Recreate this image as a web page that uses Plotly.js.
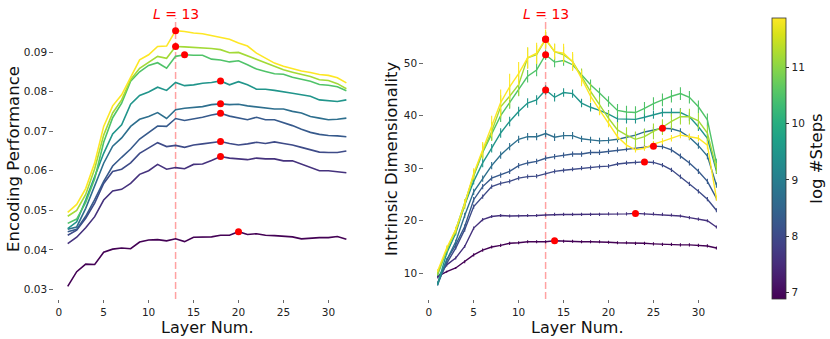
<!DOCTYPE html>
<html><head><meta charset="utf-8">
<script src="https://cdn.plot.ly/plotly-3.0.1.min.js"></script>
<style>html,body{margin:0;padding:0;background:#fff;}#chart{width:830px;height:339px;}</style>
</head><body><div id="chart"></div>
<script>
// ---------- DATA ----------
const layers = [1,2,3,4,5,6,7,8,9,10,11,12,13,14,15,16,17,18,19,20,21,22,23,24,25,26,27,28,29,30,31,32];
// log #Steps of each checkpoint (dark -> bright)
const logSteps = [6.91, 7.60, 8.01, 8.29, 8.70, 9.47, 10.49, 11.18, 11.87];

// Encoding performance (left panel), same order as logSteps
const enc_s1 = [0.0308,0.0345,0.0364,0.0363,0.0394,0.0402,0.0405,0.0403,0.0420,0.0425,0.0426,0.0423,0.0428,0.0421,0.0432,0.0432,0.0433,0.0437,0.0437,0.0446,0.0439,0.0441,0.0437,0.0436,0.0435,0.0433,0.0428,0.0430,0.0431,0.0431,0.0434,0.0427];
const enc_s2 = [0.0416,0.0432,0.0456,0.0484,0.0526,0.0549,0.0553,0.0568,0.0591,0.0600,0.0616,0.0604,0.0608,0.0605,0.0616,0.0617,0.0626,0.0636,0.0632,0.0630,0.0628,0.0632,0.0630,0.0630,0.0625,0.0625,0.0616,0.0608,0.0600,0.0600,0.0598,0.0595];
const enc_s3 = [0.0437,0.0450,0.0480,0.0518,0.0568,0.0598,0.0604,0.0620,0.0644,0.0657,0.0671,0.0661,0.0664,0.0659,0.0665,0.0668,0.0671,0.0674,0.0669,0.0665,0.0668,0.0672,0.0669,0.0673,0.0669,0.0665,0.0659,0.0653,0.0647,0.0646,0.0646,0.0650];
const enc_s4 = [0.0446,0.0452,0.0485,0.0527,0.0573,0.0612,0.0634,0.0655,0.0680,0.0697,0.0713,0.0712,0.0732,0.0727,0.0731,0.0735,0.0741,0.0745,0.0738,0.0734,0.0729,0.0735,0.0729,0.0729,0.0722,0.0714,0.0705,0.0697,0.0692,0.0689,0.0688,0.0686];
const enc_s5 = [0.0452,0.0458,0.0505,0.0560,0.0619,0.0662,0.0683,0.0712,0.0730,0.0737,0.0747,0.0732,0.0754,0.0758,0.0760,0.0762,0.0767,0.0769,0.0767,0.0768,0.0764,0.0761,0.0758,0.0756,0.0756,0.0750,0.0746,0.0737,0.0733,0.0729,0.0730,0.0733];
const enc_s6 = [0.0454,0.0471,0.0526,0.0585,0.0644,0.0693,0.0716,0.0768,0.0790,0.0799,0.0811,0.0803,0.0823,0.0815,0.0817,0.0821,0.0823,0.0827,0.0817,0.0825,0.0817,0.0806,0.0806,0.0803,0.0800,0.0796,0.0792,0.0788,0.0779,0.0777,0.0775,0.0779];
const enc_s7 = [0.0467,0.0478,0.0520,0.0580,0.0672,0.0734,0.0771,0.0826,0.0850,0.0866,0.0873,0.0859,0.0889,0.0893,0.0892,0.0892,0.0882,0.0880,0.0875,0.0878,0.0868,0.0857,0.0851,0.0845,0.0844,0.0836,0.0831,0.0826,0.0818,0.0816,0.0812,0.0802];
const enc_s8 = [0.0485,0.0500,0.0540,0.0605,0.0690,0.0746,0.0779,0.0830,0.0859,0.0875,0.0889,0.0884,0.0914,0.0913,0.0912,0.0911,0.0909,0.0906,0.0898,0.0899,0.0890,0.0880,0.0872,0.0862,0.0855,0.0849,0.0843,0.0838,0.0830,0.0828,0.0820,0.0807];
const enc_s9 = [0.0495,0.0515,0.0555,0.0620,0.0712,0.0764,0.0792,0.0837,0.0880,0.0893,0.0914,0.0915,0.0954,0.0952,0.0948,0.0946,0.0941,0.0937,0.0932,0.0923,0.0915,0.0897,0.0885,0.0872,0.0864,0.0858,0.0852,0.0848,0.0843,0.0841,0.0835,0.0822];

// Intrinsic dimensionality (right panel)
const id_s1 = [9.4,10.3,11.0,12.2,13.5,14.4,15.0,15.3,15.7,15.8,16.0,16.0,16.0,16.2,16.1,16.1,16.0,16.0,16.0,15.9,15.8,15.8,15.7,15.7,15.6,15.5,15.5,15.4,15.4,15.3,15.2,14.8];
const id_s2 = [9.2,11.6,12.9,15.1,18.6,20.2,20.8,21.0,20.9,20.9,21.0,21.0,21.1,21.2,21.2,21.2,21.2,21.2,21.2,21.3,21.3,21.3,21.4,21.3,21.3,21.2,21.1,20.9,20.6,20.3,20.0,18.8];
const id_s3 = [8.1,11.9,14.8,18.3,22.7,24.6,26.5,27.1,27.5,28.1,28.4,28.5,29.0,29.4,29.6,29.8,30.0,30.1,30.3,30.4,30.8,31.0,31.1,31.2,31.1,30.6,29.7,28.4,27.0,25.6,24.1,22.0];
const id_s4 = [8.2,12.5,15.4,18.9,24.0,26.5,28.1,28.7,29.4,30.5,31.0,31.3,31.9,32.2,32.5,32.7,32.7,33.0,33.0,33.2,33.5,33.7,33.9,34.0,34.2,34.1,33.5,32.3,31.0,29.4,27.5,24.3];
const id_s5 = [7.8,12.5,16.0,21.0,25.5,28.0,30.5,32.5,34.1,35.5,36.0,36.0,36.6,35.9,36.2,36.2,35.6,35.4,35.2,35.3,35.5,35.9,36.3,36.9,37.3,37.6,37.5,37.0,35.9,34.3,32.3,26.8];
const id_s6 = [8.0,13.8,17.6,23.0,27.5,31.0,33.8,36.7,38.9,40.8,42.4,43.0,44.9,43.5,44.4,44.2,42.4,41.6,41.0,40.3,39.4,39.3,39.3,39.7,40.2,40.6,40.6,40.6,39.8,37.9,35.7,29.5];
const id_s7 = [9.7,14.4,18.3,23.5,28.5,33.0,36.5,40.0,42.5,45.0,47.5,48.7,51.6,50.2,50.5,49.7,47.8,45.9,44.3,42.7,41.0,40.7,40.6,41.4,42.3,43.0,43.7,44.2,43.5,41.7,39.2,31.0];
const id_s8 = [10.0,14.5,18.0,23.0,28.7,33.2,37.0,41.7,43.7,45.9,51.0,51.6,54.5,52.2,51.6,50.3,47.5,44.6,42.1,39.5,37.3,36.3,35.5,36.0,37.0,37.8,38.9,39.8,39.8,39.0,36.7,30.0];
const id_s9 = [10.5,14.8,18.3,23.3,29.0,33.5,38.0,42.5,45.5,48.0,51.0,51.9,54.6,52.2,51.9,50.3,47.1,43.7,41.1,38.6,36.0,34.4,33.5,33.8,34.6,35.1,35.7,36.3,36.0,35.7,34.4,24.3];

// error bars (std) of intrinsic dimensionality
const id_e1 = [0.2,0.2,0.2,0.3,0.3,0.3,0.3,0.3,0.3,0.3,0.3,0.3,0.3,0.3,0.3,0.3,0.3,0.3,0.3,0.3,0.3,0.3,0.3,0.3,0.3,0.3,0.3,0.3,0.3,0.3,0.3,0.3];
const id_e2 = [0.2,0.3,0.3,0.3,0.3,0.3,0.3,0.3,0.3,0.3,0.3,0.3,0.3,0.3,0.3,0.3,0.3,0.3,0.3,0.3,0.3,0.3,0.3,0.3,0.3,0.3,0.3,0.3,0.3,0.3,0.3,0.3];
const id_e3 = [0.2,0.3,0.3,0.4,0.4,0.4,0.4,0.4,0.4,0.4,0.4,0.4,0.4,0.4,0.4,0.4,0.4,0.4,0.4,0.4,0.4,0.4,0.4,0.4,0.4,0.4,0.4,0.4,0.4,0.4,0.4,0.4];
const id_e4 = [0.2,0.3,0.4,0.4,0.5,0.5,0.5,0.5,0.5,0.5,0.5,0.5,0.5,0.5,0.5,0.5,0.5,0.5,0.5,0.5,0.5,0.5,0.5,0.5,0.5,0.5,0.5,0.5,0.5,0.5,0.5,0.4];
const id_e5 = [0.2,0.3,0.4,0.5,0.6,0.6,0.7,0.7,0.7,0.7,0.7,0.7,0.7,0.7,0.7,0.7,0.6,0.6,0.6,0.6,0.6,0.6,0.6,0.6,0.6,0.6,0.6,0.6,0.6,0.6,0.6,0.5];
const id_e6 = [0.2,0.3,0.4,0.5,0.6,0.8,0.8,0.9,0.9,0.9,0.9,0.9,0.9,0.8,0.8,0.8,0.8,0.8,0.8,0.8,0.8,0.8,0.8,0.8,0.8,0.8,0.8,0.8,0.8,0.8,0.8,0.6];
const id_e7 = [0.2,0.4,0.5,0.6,0.8,1.0,1.2,1.2,1.2,1.2,1.2,1.2,1.0,1.0,1.0,1.0,1.0,1.0,1.0,1.0,1.2,1.2,1.2,1.2,1.2,1.2,1.2,1.2,1.2,1.2,1.2,0.8];
const id_e8 = [0.3,0.5,0.6,0.8,1.0,1.5,1.8,2.2,2.2,2.2,2.0,1.8,1.5,1.5,1.5,1.5,1.5,1.5,1.5,1.5,1.5,1.5,1.5,1.5,1.5,1.5,1.5,1.5,1.5,1.5,1.5,1.0];
const id_e9 = [0.3,0.5,0.6,0.8,1.0,1.5,2.0,2.5,2.5,2.2,2.0,2.0,1.8,1.5,1.8,1.8,1.5,1.2,1.0,0.8,0.6,0.5,0.5,0.5,0.6,0.6,0.6,0.6,0.6,0.6,0.8,0.5];

const encSeries = [enc_s1,enc_s2,enc_s3,enc_s4,enc_s5,enc_s6,enc_s7,enc_s8,enc_s9];
const idSeries  = [id_s1,id_s2,id_s3,id_s4,id_s5,id_s6,id_s7,id_s8,id_s9];
const idErrors  = [id_e1,id_e2,id_e3,id_e4,id_e5,id_e6,id_e7,id_e8,id_e9];
const bestLayer = 13;
const cmin = 6.89, cmax = 11.87;

// ---------- viridis ----------
const VIR = ['#440154','#482475','#414487','#355f8d','#2a788e','#21918c','#22a884','#44bf70','#7ad151','#bddf26','#fde725'];
function hex2rgb(h){return [parseInt(h.substr(1,2),16),parseInt(h.substr(3,2),16),parseInt(h.substr(5,2),16)];}
function viridis(t){
  t = Math.max(0, Math.min(1, t));
  const p = t*(VIR.length-1), i = Math.min(Math.floor(p), VIR.length-2), f = p - i;
  const a = hex2rgb(VIR[i]), b = hex2rgb(VIR[i+1]);
  return 'rgb(' + a.map((v,k)=>Math.round(v+(b[k]-v)*f)).join(',') + ')';
}

const font = 'DejaVu Sans, Liberation Sans, sans-serif';
const traces = [];
const argmax = arr => arr.reduce((bi,v,i,a)=> v>a[bi]?i:bi, 0);

// left panel lines
encSeries.forEach((s,k)=>{
  traces.push({x:layers, y:s, type:'scatter', mode:'lines', xaxis:'x', yaxis:'y',
    line:{color:viridis((logSteps[k]-cmin)/(cmax-cmin)), width:1.6}, hoverinfo:'skip', showlegend:false});
});
// right panel lines with error bars
idSeries.forEach((s,k)=>{
  const c = viridis((logSteps[k]-cmin)/(cmax-cmin));
  traces.push({x:layers, y:s, type:'scatter', mode:'lines', xaxis:'x2', yaxis:'y2',
    line:{color:c, width:1.4},
    error_y:{type:'data', array:idErrors[k], visible:true, color:c, thickness:1.1, width:0},
    hoverinfo:'skip', showlegend:false});
});
// red markers at maxima
const mxL=[],myL=[],mxR=[],myR=[];
encSeries.forEach(s=>{const i=argmax(s); mxL.push(layers[i]); myL.push(s[i]);});
idSeries.forEach(s=>{const i=argmax(s); mxR.push(layers[i]); myR.push(s[i]);});
traces.push({x:mxL,y:myL,type:'scatter',mode:'markers',xaxis:'x',yaxis:'y',marker:{color:'#ff0000',size:7},showlegend:false,hoverinfo:'skip'});
traces.push({x:mxR,y:myR,type:'scatter',mode:'markers',xaxis:'x2',yaxis:'y2',marker:{color:'#ff0000',size:7},showlegend:false,hoverinfo:'skip'});
// colorbar carrier
traces.push({x:[-50],y:[0],type:'scatter',mode:'markers',xaxis:'x2',yaxis:'y2',showlegend:false,hoverinfo:'skip',
  marker:{color:[cmin],cmin:cmin,cmax:cmax,colorscale:'Viridis',opacity:0,showscale:true,
    colorbar:{x:772/830,xanchor:'left',xpad:0,y:0.5325,yanchor:'middle',ypad:0,len:0.829,lenmode:'fraction',
      thickness:14,thicknessmode:'pixels',outlinewidth:0.8,outlinecolor:'#333',
      tickvals:[7,8,9,10,11],ticks:'outside',ticklen:3.5,tickcolor:'#333',
      tickfont:{family:font,size:10.5,color:'#222'},
      title:{text:'log #Steps',side:'right',font:{family:font,size:16.5,color:'#111'}}}}});

const axBase = {showline:false, zeroline:false, showgrid:false, ticks:'outside', ticklen:3.5, tickcolor:'#444', tickwidth:0.8,
  tickfont:{family:font,size:10.5,color:'#222'}};
const yDom = [0.118, 0.947];
const ann = (o) => Object.assign({showarrow:false, xanchor:'center', yanchor:'middle'}, o);
const layout = {
  width:830, height:339, margin:{l:0,r:0,t:0,b:0}, paper_bgcolor:'#fff', plot_bgcolor:'#fff',
  font:{family:font},
  xaxis:Object.assign({}, axBase, {domain:[0.0648,0.4341], range:[-0.55,33.55], tickvals:[0,5,10,15,20,25,30], anchor:'y'}),
  yaxis:Object.assign({}, axBase, {domain:yDom, range:[0.0276,0.0986], tickvals:[0.03,0.04,0.05,0.06,0.07,0.08,0.09], tickformat:'.2f', anchor:'x'}),
  xaxis2:Object.assign({}, axBase, {domain:[0.5106,0.8799], range:[-0.55,33.55], tickvals:[0,5,10,15,20,25,30], anchor:'y2'}),
  yaxis2:Object.assign({}, axBase, {domain:yDom, range:[5.1,58.6], tickvals:[10,20,30,40,50], anchor:'x2'}),
  shapes:[
    {type:'line', xref:'x', yref:'y domain', x0:bestLayer, x1:bestLayer, y0:0, y1:1, line:{color:'rgba(255,70,70,0.5)', width:1.5, dash:'7px,3px'}, layer:'below'},
    {type:'line', xref:'x2', yref:'y2 domain', x0:bestLayer, x1:bestLayer, y0:0, y1:1, line:{color:'rgba(255,70,70,0.5)', width:1.5, dash:'7px,3px'}, layer:'below'}
  ],
  annotations:[
    ann({text:'Encoding Performance', xref:'paper', yref:'paper', x:14/830, y:0.531, textangle:-90, font:{family:font,size:16.5,color:'#111'}}),
    ann({text:'Intrinsic Dimensionality', xref:'paper', yref:'paper', x:392/830, y:0.531, textangle:-90, font:{family:font,size:16.5,color:'#111'}}),
    ann({text:'Layer Num.', xref:'paper', yref:'paper', x:206.7/830, y:(339-327)/339, font:{family:font,size:16,color:'#111'}}),
    ann({text:'Layer Num.', xref:'paper', yref:'paper', x:576.7/830, y:(339-327)/339, font:{family:font,size:16,color:'#111'}}),
    ann({text:'<i>L</i> = 13', xref:'x', yref:'paper', x:bestLayer, y:(339-14)/339, font:{family:font,size:14,color:'#ff0000'}}),
    ann({text:'<i>L</i> = 13', xref:'x2', yref:'paper', x:bestLayer, y:(339-14)/339, font:{family:font,size:14,color:'#ff0000'}})
  ]
};
Plotly.newPlot('chart', traces, layout, {displayModeBar:false, staticPlot:true});
</script></body></html>
